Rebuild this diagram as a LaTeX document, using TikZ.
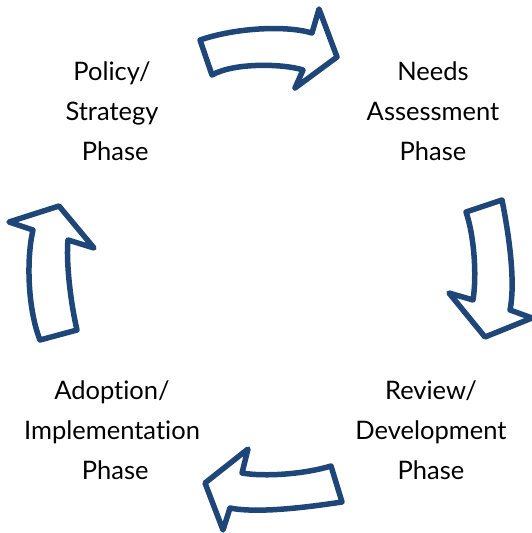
\documentclass[tikz,border=0pt]{standalone}
\usepackage{fontspec}
\setmainfont[Ligatures=NoCommon]{Lato}
\definecolor{navy}{RGB}{31,70,120}
\begin{document}
\begin{tikzpicture}[x=1pt,y=-1pt,
  blockarrow/.style={draw=navy,line width=5.5pt,line join=round,fill=white},
  phase/.style={align=center,font=\fontsize{25.5}{40}\selectfont,text=black,inner sep=0pt}]
\useasboundingbox (0,0) rectangle (532,533);
% top arrow (pointing right)
\draw[blockarrow] (200,40) .. controls (235,28) and (285,25) .. (312,33)
  -- (319,9) -- (337,57) -- (295,88) -- (303,70)
  .. controls (285,64) and (235,62) .. (212,75) -- cycle;
% right arrow (pointing down)
\draw[blockarrow] (466,212) -- (502,200)
  .. controls (508,230) and (516,280) .. (510,310)
  -- (532,318) -- (485,337) -- (449,293) -- (473,300)
  .. controls (477,275) and (474,235) .. (466,212) -- cycle;
% bottom arrow (pointing left)
\draw[blockarrow] (331,466) -- (342,502)
  .. controls (315,506) and (260,514) .. (230,508)
  -- (223,530) -- (205,483) -- (248,449) -- (242,473)
  .. controls (265,477) and (305,474) .. (331,466) -- cycle;
% left arrow (pointing up)
\draw[blockarrow] (40,340) -- (77,330)
  .. controls (70,300) and (66,260) .. (68,240)
  -- (94,248) -- (59,206) -- (9,222) -- (33,230)
  .. controls (26,260) and (28,310) .. (40,340) -- cycle;
% labels
\node[phase] (policy) at (112,111) {Policy/\\Strategy\\\ Phase};
\node[phase] (needs) at (433,111) {Needs\\Assessment\\Phase};
\node[phase] (review) at (431,430) {Review/\\Development\\Phase};
\node[phase] (adoption) at (112,430) {Adoption/\\Implementation\\\ Phase};
\end{tikzpicture}
\end{document}
